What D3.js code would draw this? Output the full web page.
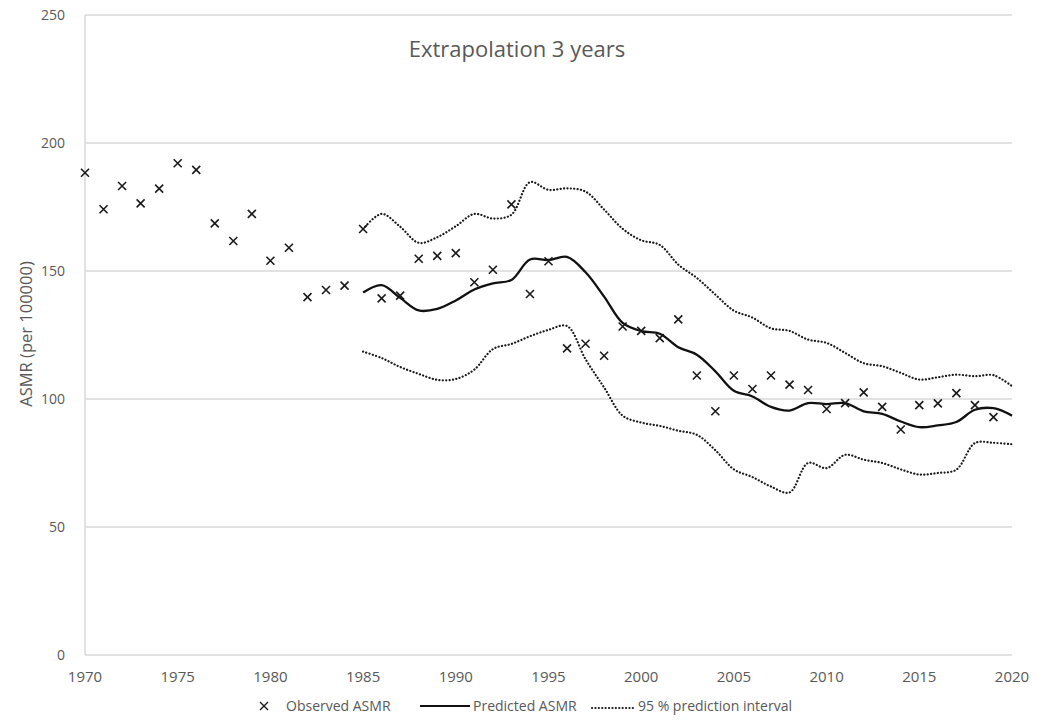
<!DOCTYPE html>
<html>
<head>
<meta charset="utf-8">
<script src="https://cdn.jsdelivr.net/npm/d3@7"></script>
<style>
html,body{margin:0;padding:0;background:#fff;}
svg{display:block;}
</style>
</head>
<body>
<svg id="chart" width="1052" height="722"></svg>
<script>
// ---- Data ----
const obsYears = d3.range(1970, 2020);
const observed = [188.4,174.1,183.2,176.4,182.2,192.1,189.5,168.6,161.7,172.3,
  154.0,159.1,139.8,142.6,144.3,166.4,139.3,140.4,154.8,155.9,
  157.0,145.6,150.5,176.0,141.0,153.8,119.8,121.6,116.9,128.3,
  126.6,123.8,131.1,109.2,95.2,109.2,103.9,109.2,105.6,103.5,
  96.1,98.4,102.6,96.9,88.1,97.6,98.3,102.3,97.6,92.9];
const predYears = d3.range(1985, 2021);
const predicted = [141.6,144.5,139.5,134.6,135.2,138.5,142.8,145.2,146.5,154.5,
  154.3,155.5,149.5,140.0,129.7,126.5,125.5,120.2,117.3,110.8,
  103.2,101.0,96.9,95.5,98.4,98.0,98.4,95.2,94.2,91.2,
  89.0,89.7,91.0,95.8,96.4,93.5];
const upperPI = [166.4,172.3,167.3,161.0,163.2,167.5,172.3,170.5,172.0,184.7,
  181.7,182.3,181.0,174.0,166.5,162.0,160.2,152.5,147.3,140.8,
  134.5,131.8,127.6,126.6,123.2,121.9,118.0,114.0,112.8,110.2,
  107.6,108.5,109.5,108.9,109.3,105.0];
const lowerPI = [118.5,116.0,112.5,109.8,107.5,107.8,111.5,119.5,121.5,124.5,
  127.0,128.5,115.5,104.5,93.5,90.8,89.5,87.6,86.0,80.0,
  72.5,69.5,65.8,63.5,75.0,73.0,78.2,76.3,75.0,72.5,
  70.5,71.1,72.4,82.8,82.9,82.3];
const xTicks = [1970,1975,1980,1985,1990,1995,2000,2005,2010,2015,2020];
const yTicks = [0,50,100,150,200,250];
const title = "Extrapolation 3 years";
const yTitle = "ASMR (per 100000)";
const legendLabels = ["Observed ASMR","Predicted ASMR","95 % prediction interval"];

// ---- Chart ----
const svg = d3.select("#chart");
const pLeft = 85, pRight = 1012, pTop = 15, pBottom = 655;
const x = d3.scaleLinear().domain([1970, 2020]).range([pLeft, pRight]);
const y = d3.scaleLinear().domain([0, 250]).range([pBottom, pTop]);
const txt = "#595959";
const grid = "#d9d9d9";
const font = "'Open Sans',sans-serif";

// gridlines
svg.append("g").selectAll("line").data(yTicks.filter(d => d > 0)).join("line")
  .attr("x1", pLeft).attr("x2", pRight)
  .attr("y1", d => y(d)).attr("y2", d => y(d))
  .attr("stroke", grid).attr("stroke-width", 1.3);

// axes lines
svg.append("line").attr("x1", pLeft).attr("x2", pLeft).attr("y1", pTop).attr("y2", pBottom)
  .attr("stroke", grid).attr("stroke-width", 1.5);
svg.append("line").attr("x1", pLeft).attr("x2", pRight).attr("y1", pBottom).attr("y2", pBottom)
  .attr("stroke", grid).attr("stroke-width", 1.5);

// y ticks labels
svg.append("g").selectAll("text").data(yTicks).join("text")
  .attr("x", 65).attr("y", d => y(d) + 5)
  .attr("text-anchor", "end")
  .attr("font-family", font).attr("font-size", 14)
  .attr("fill", txt).text(d => d);

// x tick labels
svg.append("g").selectAll("text").data(xTicks).join("text")
  .attr("x", d => x(d)).attr("y", 682)
  .attr("text-anchor", "middle")
  .attr("font-family", font).attr("font-size", 15)
  .attr("fill", txt).text(d => d);

// y axis title
svg.append("text")
  .attr("transform", "translate(32,334) rotate(-90)")
  .attr("text-anchor", "middle")
  .attr("font-family", font).attr("font-size", 16.5)
  .attr("fill", txt).text(yTitle);

// title
svg.append("text").attr("x", 517).attr("y", 57)
  .attr("text-anchor", "middle")
  .attr("font-family", font).attr("font-size", 22)
  .attr("fill", txt).text(title);

// lines
const line = d3.line().curve(d3.curveCatmullRom.alpha(0.5));
function series(vals) { return vals.map((v, i) => [x(predYears[i]), y(v)]); }

const dotStyle = p => p.attr("fill", "none").attr("stroke", "#1a1a1a").attr("stroke-width", 2.2)
  .attr("stroke-dasharray", "0.1 3.3").attr("stroke-linecap", "round");
svg.append("path").attr("d", line(series(upperPI))).call(dotStyle);
svg.append("path").attr("d", line(series(lowerPI))).call(dotStyle);
svg.append("path").attr("d", line(series(predicted)))
  .attr("fill", "none").attr("stroke", "#111").attr("stroke-width", 2.3);

// observed markers
const m = 4;
const mk = svg.append("g").selectAll("g").data(observed).join("g")
  .attr("transform", (d, i) => `translate(${x(obsYears[i])},${y(d)})`);
mk.append("path").attr("d", `M${-m},${-m}L${m},${m}M${-m},${m}L${m},${-m}`)
  .attr("stroke", "#1a1a1a").attr("stroke-width", 1.6);

// legend
const ly = 706;
const lg = svg.append("g");
lg.append("path").attr("d", `M${260},${ly-4}L${268},${ly+4}M${260},${ly+4}L${268},${ly-4}`)
  .attr("stroke", "#1a1a1a").attr("stroke-width", 1.4);
lg.append("text").attr("x", 286).attr("y", ly + 5)
  .attr("font-family", font).attr("font-size", 14).attr("fill", txt).text(legendLabels[0]);
lg.append("line").attr("x1", 420).attr("x2", 470).attr("y1", ly).attr("y2", ly)
  .attr("stroke", "#111").attr("stroke-width", 2.2);
lg.append("text").attr("x", 473).attr("y", ly + 5)
  .attr("font-family", font).attr("font-size", 14).attr("fill", txt).text(legendLabels[1]);
lg.append("line").attr("x1", 592).attr("x2", 635).attr("y1", ly + 2).attr("y2", ly + 2)
  .call(dotStyle);
lg.append("text").attr("x", 638).attr("y", ly + 5)
  .attr("font-family", font).attr("font-size", 14).attr("fill", txt).text(legendLabels[2]);
</script>
</body>
</html>
